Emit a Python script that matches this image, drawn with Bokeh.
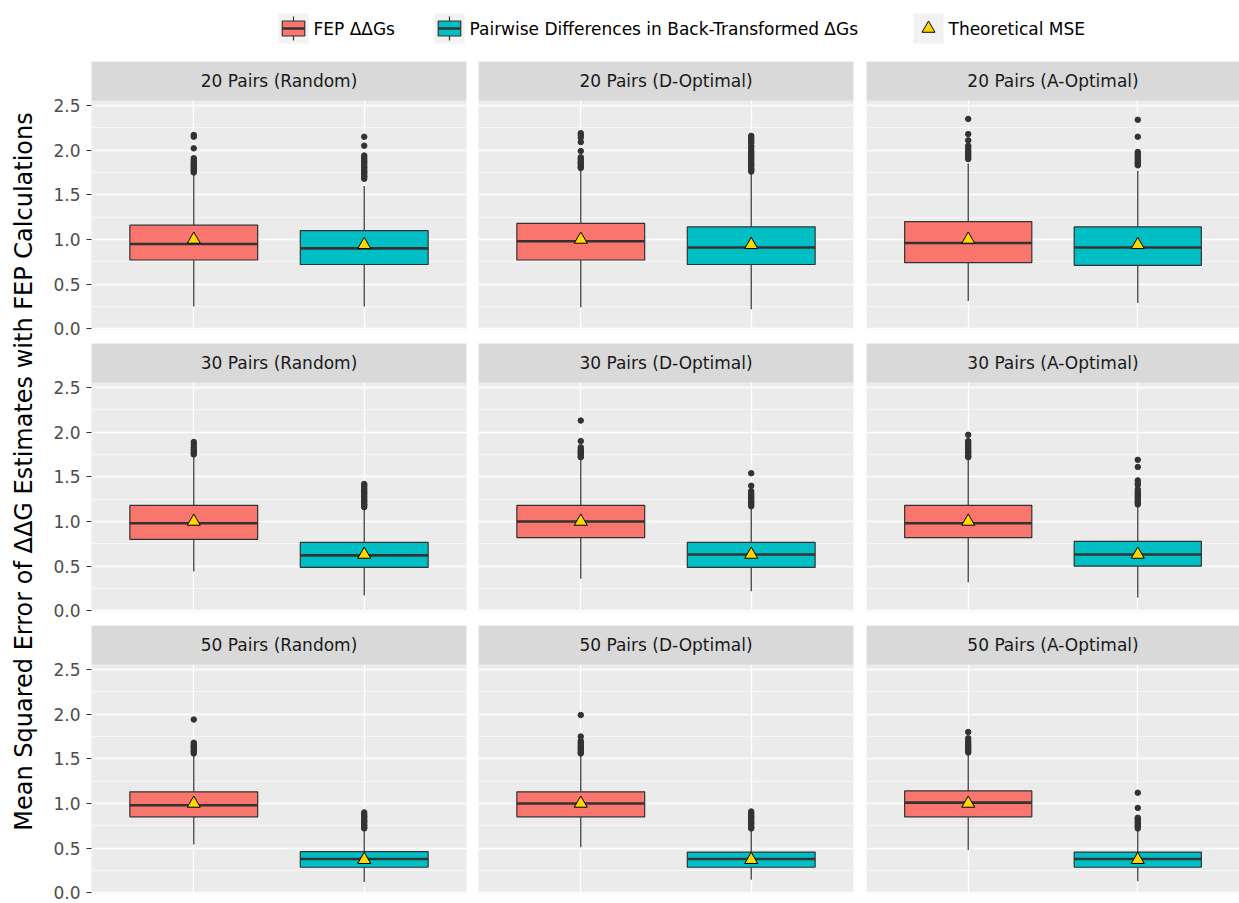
import math

from bokeh.core.properties import value
from bokeh.embed import file_html
from bokeh.layouts import column, row
from bokeh.models import BoxAnnotation, FixedTicker, PrintfTickFormatter, Range1d
from bokeh.plotting import figure
from bokeh.resources import INLINE

# ---------------------------------------------------------------- data
panel_titles = [
    "20 Pairs (Random)", "20 Pairs (D-Optimal)", "20 Pairs (A-Optimal)",
    "30 Pairs (Random)", "30 Pairs (D-Optimal)", "30 Pairs (A-Optimal)",
    "50 Pairs (Random)", "50 Pairs (D-Optimal)", "50 Pairs (A-Optimal)",
]
series_names = ["FEP ΔΔGs", "Pairwise Differences in Back-Transformed ΔGs"]
mean_name = "Theoretical MSE"
series_pos = [1, 2]

# FEP ddG boxplot statistics per panel
fep_lower = [0.25, 0.24, 0.31, 0.44, 0.36, 0.32, 0.54, 0.51, 0.48]
fep_q1 = [0.77, 0.77, 0.74, 0.80, 0.82, 0.82, 0.85, 0.85, 0.85]
fep_median = [0.95, 0.98, 0.96, 0.98, 1.00, 0.98, 0.98, 1.00, 1.01]
fep_q3 = [1.16, 1.18, 1.20, 1.18, 1.18, 1.18, 1.13, 1.13, 1.14]
fep_upper = [1.74, 1.79, 1.85, 1.72, 1.69, 1.70, 1.54, 1.55, 1.56]
fep_outliers = [
    [1.75, 1.76, 1.78, 1.79, 1.81, 1.82, 1.84, 1.85, 1.87, 1.89, 1.91, 2.02, 2.15, 2.17],
    [1.80, 1.81, 1.83, 1.85, 1.86, 1.88, 1.90, 1.92, 1.99, 2.09, 2.14, 2.17, 2.19],
    [1.90, 1.92, 1.94, 1.96, 1.98, 2.00, 2.03, 2.05, 2.11, 2.18, 2.35],
    [1.75, 1.77, 1.79, 1.81, 1.83, 1.86, 1.89],
    [1.72, 1.73, 1.75, 1.76, 1.78, 1.79, 1.81, 1.83, 1.90, 2.13],
    [1.72, 1.73, 1.75, 1.77, 1.78, 1.80, 1.82, 1.84, 1.86, 1.88, 1.90, 1.97],
    [1.56, 1.58, 1.59, 1.61, 1.63, 1.64, 1.66, 1.68, 1.94],
    [1.56, 1.57, 1.59, 1.61, 1.62, 1.64, 1.66, 1.68, 1.70, 1.75, 1.99],
    [1.57, 1.59, 1.60, 1.62, 1.64, 1.66, 1.68, 1.70, 1.73, 1.80],
]
fep_theory = [1.00, 1.00, 1.00, 1.00, 1.00, 1.00, 1.00, 1.00, 1.00]

# back-transformed pairwise differences per panel
bt_lower = [0.25, 0.22, 0.29, 0.17, 0.22, 0.15, 0.12, 0.145, 0.13]
bt_q1 = [0.72, 0.72, 0.71, 0.485, 0.485, 0.50, 0.286, 0.286, 0.286]
bt_median = [0.90, 0.91, 0.91, 0.62, 0.63, 0.63, 0.378, 0.378, 0.378]
bt_q3 = [1.10, 1.14, 1.14, 0.767, 0.767, 0.778, 0.46, 0.456, 0.456]
bt_upper = [1.60, 1.74, 1.77, 1.15, 1.16, 1.185, 0.70, 0.705, 0.70]
bt_outliers = [
    [1.68, 1.70, 1.71, 1.73, 1.75, 1.76, 1.78, 1.80, 1.81, 1.83, 1.85, 1.87, 1.88, 1.90, 1.92, 1.94, 2.05, 2.15],
    [1.76, 1.78, 1.79, 1.81, 1.83, 1.84, 1.86, 1.88, 1.90, 1.92, 1.94, 1.96, 1.98, 2.00, 2.03, 2.05, 2.08, 2.10, 2.12, 2.14, 2.16],
    [1.83, 1.85, 1.86, 1.88, 1.90, 1.92, 1.94, 1.96, 1.98, 2.15, 2.34],
    [1.16, 1.18, 1.19, 1.21, 1.23, 1.24, 1.26, 1.28, 1.30, 1.32, 1.33, 1.35, 1.37, 1.39, 1.41, 1.42],
    [1.17, 1.19, 1.21, 1.22, 1.24, 1.26, 1.28, 1.30, 1.32, 1.34, 1.40, 1.54],
    [1.19, 1.21, 1.22, 1.24, 1.26, 1.28, 1.30, 1.32, 1.34, 1.36, 1.41, 1.43, 1.46, 1.61, 1.69],
    [0.72, 0.73, 0.75, 0.76, 0.78, 0.80, 0.81, 0.83, 0.85, 0.86, 0.88, 0.90],
    [0.72, 0.73, 0.75, 0.77, 0.78, 0.80, 0.82, 0.84, 0.85, 0.87, 0.89, 0.91],
    [0.72, 0.74, 0.75, 0.77, 0.79, 0.81, 0.83, 0.84, 0.95, 1.12],
]
bt_theory = [0.94, 0.94, 0.94, 0.63, 0.63, 0.63, 0.37, 0.37, 0.37]

y_ticks = [0.0, 0.5, 1.0, 1.5, 2.0, 2.5]
y_minor = [0.25, 0.75, 1.25, 1.75, 2.25]
y_title = "Mean Squared Error of ΔΔG Estimates with FEP Calculations"

# ---------------------------------------------------------------- style
FONT = "DejaVu Sans"
FILLS = ["#F8766D", "#00BFC4"]
EDGE = "#333333"
GOLD = "#FFD700"
PANEL_BG = "#EBEBEB"
STRIP_BG = "#D9D9D9"
BOX_W = 0.75
X_LIM = (0.4, 2.6)
Y_LIM = (-0.008, 2.556)

FRAME_H = 229          # height of the data area of one facet
STRIP_H = 39           # facet header band drawn above the data area
ROW_GAP = [14, 14, 9]
COL_FRAME_W = [375, 375, 373]
COL_LEFT = [46, 0, 0]
COL_RIGHT = [12, 13, 0]
LEGEND_H = 61
TITLE_W = 45

# the header band shares the facet's y scale, stacked above the data limits
px_per_unit = FRAME_H / (Y_LIM[1] - Y_LIM[0])
strip_top = Y_LIM[1] + STRIP_H / px_per_unit
strip_mid = (Y_LIM[1] + strip_top) / 2


def draw_box(p, pos, lo, q1, med, q3, hi, outs, theory, fill):
    p.segment(x0=[pos, pos], y0=[q3, lo], x1=[pos, pos], y1=[hi, q1],
              line_color=EDGE, line_width=1.2)
    p.vbar(x=[pos], width=BOX_W, bottom=[q1], top=[q3], fill_color=fill,
           line_color=EDGE, line_width=1.2)
    p.segment(x0=[pos - BOX_W / 2], y0=[med], x1=[pos + BOX_W / 2], y1=[med],
              line_color=EDGE, line_width=2.6)
    p.scatter(x=[pos] * len(outs), y=outs, size=5.5, fill_color=EDGE, line_color=EDGE)
    p.scatter(x=[pos], y=[theory], marker="triangle", size=13, fill_color=GOLD,
              line_color="black", line_width=1)


def panel_fig(i, r, c):
    w = COL_LEFT[c] + COL_FRAME_W[c] + COL_RIGHT[c]
    p = figure(width=w, height=STRIP_H + FRAME_H + ROW_GAP[r], x_range=Range1d(*X_LIM),
               y_range=Range1d(Y_LIM[0], strip_top), x_axis_location=None,
               y_axis_location="left" if c == 0 else None, toolbar_location=None,
               output_backend="svg", background_fill_color=PANEL_BG,
               border_fill_color="white", outline_line_color=None,
               min_border_left=COL_LEFT[c], min_border_right=COL_RIGHT[c],
               min_border_top=0, min_border_bottom=ROW_GAP[r])
    p.xgrid.ticker = FixedTicker(ticks=series_pos)
    p.ygrid.ticker = FixedTicker(ticks=y_ticks, minor_ticks=y_minor)
    p.grid.grid_line_color = "white"
    p.grid.grid_line_width = 1.3
    p.ygrid.minor_grid_line_color = "white"
    p.ygrid.minor_grid_line_width = 0.6
    if c == 0:
        ax = p.yaxis[0]
        ax.ticker = FixedTicker(ticks=y_ticks)
        ax.formatter = PrintfTickFormatter(format="%.1f")
        ax.axis_line_color = None
        ax.major_tick_line_color = EDGE
        ax.major_tick_line_width = 1.1
        ax.major_tick_out = 5
        ax.major_tick_in = 0
        ax.minor_tick_line_color = None
        ax.major_label_standoff = 6
        ax.major_label_text_font = FONT
        ax.major_label_text_font_size = "17px"
        ax.major_label_text_color = "#4D4D4D"

    draw_box(p, series_pos[0], fep_lower[i], fep_q1[i], fep_median[i], fep_q3[i],
             fep_upper[i], fep_outliers[i], fep_theory[i], FILLS[0])
    draw_box(p, series_pos[1], bt_lower[i], bt_q1[i], bt_median[i], bt_q3[i],
             bt_upper[i], bt_outliers[i], bt_theory[i], FILLS[1])

    # facet header
    p.add_layout(BoxAnnotation(bottom=Y_LIM[1], fill_color=STRIP_BG, fill_alpha=1.0,
                               line_color=None))
    p.text(x=[sum(X_LIM) / 2], y=[strip_mid], text=[panel_titles[i]], text_align="center",
           text_baseline="middle", text_font=value(FONT), text_font_size="17px",
           text_color="#1A1A1A", level="overlay")
    return p


# ---------------------------------------------------------------- facets
facets = column([row([panel_fig(3 * r + c, r, c) for c in range(3)]) for r in range(3)])

# ---------------------------------------------------------------- y-axis title
body_h = 3 * (STRIP_H + FRAME_H) + sum(ROW_GAP)
yt = figure(width=TITLE_W, height=body_h, x_range=Range1d(0, TITLE_W),
            y_range=Range1d(0, body_h), x_axis_location=None, y_axis_location=None,
            toolbar_location=None, output_backend="svg", outline_line_color=None,
            min_border_left=0, min_border_right=0, min_border_top=0, min_border_bottom=0)
yt.grid.visible = False
yt.text(x=[23.5], y=[body_h - 410], text=[y_title], angle=math.pi / 2,
        text_align="center", text_baseline="middle", text_font=value(FONT),
        text_font_size="24px", text_color="black")

# ---------------------------------------------------------------- legend
LW = 1239
leg = figure(width=LW, height=LEGEND_H, x_range=Range1d(0, LW), y_range=Range1d(LEGEND_H, 0),
             x_axis_location=None, y_axis_location=None, toolbar_location=None,
             output_backend="svg", outline_line_color=None,
             min_border_left=0, min_border_right=0, min_border_top=0, min_border_bottom=0)
leg.grid.visible = False
KEY = 30
key_left = [278, 434, 913]
key_cy = 28
label_gap = 5
kt, kb = key_cy - KEY / 2, key_cy + KEY / 2
leg.quad(left=key_left, right=[k + KEY for k in key_left], top=[kt] * 3, bottom=[kb] * 3,
         fill_color="#F2F2F2", line_color=None)
for j in range(2):
    cx = key_left[j] + KEY / 2
    leg.segment(x0=[cx], y0=[kt + 0.1 * KEY], x1=[cx], y1=[kb - 0.1 * KEY],
                line_color=EDGE, line_width=1.2)
    leg.quad(left=[key_left[j] + 0.125 * KEY], right=[key_left[j] + 0.875 * KEY],
             top=[kt + 0.25 * KEY], bottom=[kt + 0.75 * KEY], fill_color=FILLS[j],
             line_color=EDGE, line_width=1.2)
    leg.segment(x0=[key_left[j] + 0.125 * KEY], y0=[key_cy], x1=[key_left[j] + 0.875 * KEY],
                y1=[key_cy], line_color=EDGE, line_width=2.6)
leg.scatter(x=[key_left[2] + KEY / 2], y=[key_cy], marker="triangle", size=13,
            fill_color=GOLD, line_color="black", line_width=1)
leg.text(x=[k + KEY + label_gap for k in key_left], y=[key_cy] * 3,
         text=series_names + [mean_name], text_align="left", text_baseline="middle",
         text_font=value(FONT), text_font_size="17px", text_color="black")

layout = column(leg, row(yt, facets))

open("out.html", "w").write(file_html(layout, INLINE))
